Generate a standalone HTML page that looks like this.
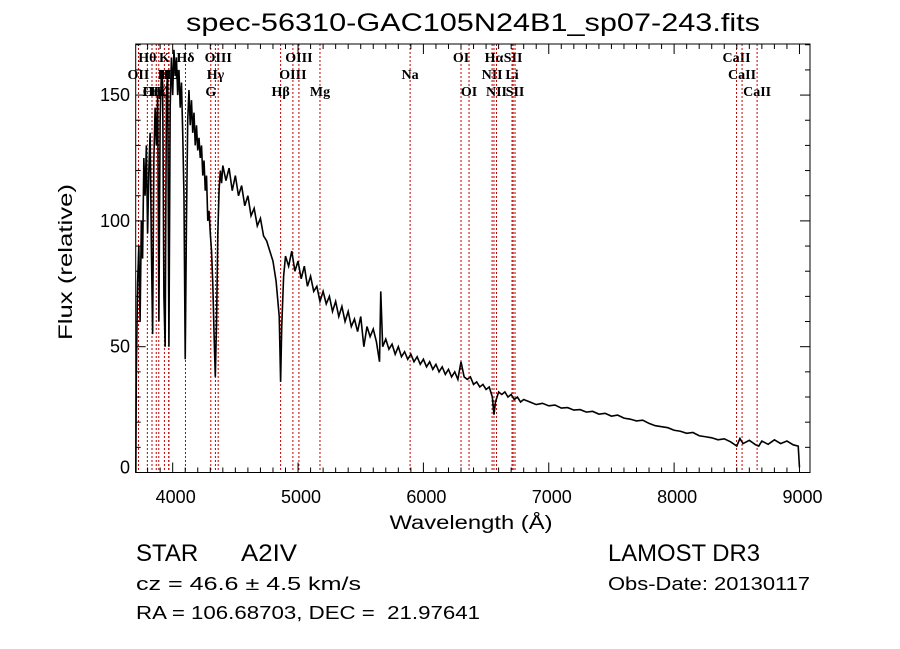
<!DOCTYPE html>
<html><head><meta charset="utf-8"><style>
html,body{margin:0;padding:0;background:#fff;width:900px;height:649px;overflow:hidden}
svg{display:block}
text{font-family:"Liberation Sans",sans-serif;fill:#000;white-space:pre}
.lbl{font-family:"Liberation Serif",serif;font-size:14px;font-weight:bold}
</style></head><body>
<svg id="chart" width="900" height="649" viewBox="0 0 900 649" xmlns="http://www.w3.org/2000/svg">
<text x="473" y="31" font-size="25" text-anchor="middle" textLength="574" lengthAdjust="spacingAndGlyphs">spec-56310-GAC105N24B1_sp07-243.fits</text>
<text x="471" y="529" font-size="19" text-anchor="middle" textLength="163" lengthAdjust="spacingAndGlyphs">Wavelength (Å)</text>
<text transform="translate(72,262) rotate(-90)" font-size="19" text-anchor="middle" textLength="156" lengthAdjust="spacingAndGlyphs">Flux (relative)</text>
<text x="136" y="561" font-size="24">STAR</text>
<text x="241" y="561" font-size="24" textLength="56" lengthAdjust="spacingAndGlyphs">A2IV</text>
<text x="136" y="590" font-size="18" textLength="225" lengthAdjust="spacingAndGlyphs">cz = 46.6 ± 4.5 km/s</text>
<text x="136" y="619" font-size="18" textLength="344" lengthAdjust="spacingAndGlyphs">RA = 106.68703, DEC =  21.97641</text>
<text x="608" y="561" font-size="24" textLength="152" lengthAdjust="spacingAndGlyphs">LAMOST DR3</text>
<text x="608" y="590" font-size="18" textLength="202" lengthAdjust="spacingAndGlyphs">Obs-Date: 20130117</text>
<g id="plot"></g>
</svg>
<script>
const waves=[3706,3710,3720,3730,3740,3750,3760,3770,3780,3790,3800,3810,3820,3830,3840,3850,3860,3870,3880,3890,3900,3910,3920,3930,3940,3950,3960,3970,3980,3990,4000,4010,4020,4030,4040,4050,4060,4070,4080,4090,4100,4110,4120,4130,4140,4150,4160,4170,4180,4190,4200,4210,4220,4230,4240,4250,4260,4270,4280,4290,4300,4310,4320,4330,4340,4350,4360,4370,4380,4390,
4400,4425,4450,4475,4500,4525,4550,4575,4600,4625,4650,4675,4700,4725,4750,4775,4800,4825,4850,4861,4870,4885,4900,4925,4950,4975,5000,5025,5050,5075,5100,5125,5150,5175,5200,5225,5250,5275,5300,5325,5350,5375,5400,5425,5450,5475,5500,5525,5550,5575,5600,5625,5650,5660,5675,5700,5725,5750,5775,5800,5825,5850,5875,5900,5925,5950,5975,6000,6025,6050,6075,6100,6125,6150,6175,6200,6225,6250,6275,6300,6325,6350,6375,6400,6425,6450,6475,6500,6525,6550,6563,6575,6600,6625,6650,6675,6700,6725,6750,6775,6800,6850,6900,6950,7000,7050,7100,7150,7200,7250,7300,7350,7400,7450,7500,7550,7600,7650,7700,7750,7800,7850,7900,7950,8000,8050,8100,8150,8200,8250,8300,8350,8400,8450,8500,8525,8550,8600,8650,8675,8700,8750,8800,8850,8900,8950,8990,9000];
const fluxes=[0,40,75,90,60,100,85,125,110,130,95,120,135,90,55,125,145,130,150,60,140,160,155,70,50,150,160,50,145,165,150,168,158,165,150,160,145,155,135,110,45,100,140,152,138,148,135,143,130,138,128,133,125,130,118,124,112,118,100,104,95,88,75,55,38,60,95,112,120,115,
122,116,121,112,118,110,114,106,110,102,105,98,101,94,92,88,84,76,62,36,58,78,86,82,88,80,84,77,82,74,78,72,74,68,72,67,70,64,68,62,66,60,64,58,61,56,62,50,58,54,57,52,44,72,50,53,49,51,47,50,46,48,45,47,44,46,43,45,42,44,41,43,40,42,39,41,38,40,37,44,38,37,38,35,36,34,35,33,34,30,23,28,32,31,32,30,31,29,30,28,29,28,27,27.5,26.5,26.8,25.6,25.8,24.8,25,24,24.3,23.2,23.5,22.4,22.8,21.6,21.2,20.5,20.8,19.5,18.6,18.2,17.8,16.8,16.4,15.6,15.9,14.6,14.2,13.8,13,13.4,12.2,10.5,13.5,11.5,12.8,11,10.5,12.5,11.2,13,11.5,12.5,11,10.5,2];
const xTicks=[4000,5000,6000,7000,8000,9000];
const yTicks=[0,50,100,150];
const lineWaves=[3727,3798,3835,3869,3889,3934,3968,3970,4102,4304,4341,4363,4861,4959,5007,5175,5894,6300,6364,6548,6563,6583,6707,6716,6731,8498,8542,8662];
const labelNames=["OII","Hθ","Hη","OIII","Hζ","K","HII","Hε","Hδ","G","Hγ","OIII","Hβ","OIII","OIII","Mg","Na","OI","OI","NII","Hα","NII","Li","SII","SII","CaII","CaII","CaII"];
const labelRows=[1,0,2,2,2,0,1,1,0,2,1,0,2,1,0,2,1,0,2,1,0,2,1,0,2,0,1,2];

const NS="http://www.w3.org/2000/svg";
const L=135.7,R=810,T=44,B=472.5;
const XMIN=3705,XMAX=9084,YMIN=0,YMAX=170.3;
const sx=w=>L+(w-XMIN)/(XMAX-XMIN)*(R-L);
const sy=v=>B-(v-YMIN)/(YMAX-YMIN)*(B-T);
const g=document.getElementById('plot');
function mk(tag,attrs){const e=document.createElementNS(NS,tag);for(const k in attrs)e.setAttribute(k,attrs[k]);g.appendChild(e);return e;}

lineWaves.forEach((w,i)=>{
  const x=sx(w);
  const ln=mk('line',{x1:x,x2:x,y1:T,y2:B,stroke:'#c00000','stroke-width':1,'stroke-dasharray':'2,2'});
  
  
  const t=mk('text',{x:x,y:62+labelRows[i]*17,'text-anchor':'middle',class:'lbl'});
  t.textContent=labelNames[i];
  
  
});

let d='';
waves.forEach((w,i)=>{d+=(i?'L':'M')+sx(w).toFixed(2)+','+sy(fluxes[i]).toFixed(2);});
const sp=mk('path',{d:d,fill:'none',stroke:'#000','stroke-width':1.6,'stroke-linejoin':'miter'});



const fr=mk('rect',{x:L,y:T,width:R-L,height:B-T,fill:'none',stroke:'#000','stroke-width':1});



for(let w=3800;w<=XMAX;w+=100){
  const x=sx(w);const major=w%1000===0;const len=major?10:5;
  mk('line',{x1:x,x2:x,y1:B,y2:B-len,stroke:'#000','stroke-width':1});
  mk('line',{x1:x,x2:x,y1:T,y2:T+len,stroke:'#000','stroke-width':1});
}
xTicks.forEach(w=>{
  const t=mk('text',{x:sx(w)+3,y:503,'font-size':18,'text-anchor':'middle'});
  t.textContent=w;
  
  
});
for(let v=10;v<=YMAX;v+=10){
  const y=sy(v);const major=v%50===0;const len=major?10:5;
  mk('line',{x1:L,x2:L+len,y1:y,y2:y,stroke:'#000','stroke-width':1});
  mk('line',{x1:R,x2:R-len,y1:y,y2:y,stroke:'#000','stroke-width':1});
}
yTicks.forEach(v=>{
  const t=mk('text',{x:130,y:sy(v)+6-(v===0?5:0),'font-size':18,'text-anchor':'end'});
  t.textContent=v;
  
  
});
</script>
</body></html>
